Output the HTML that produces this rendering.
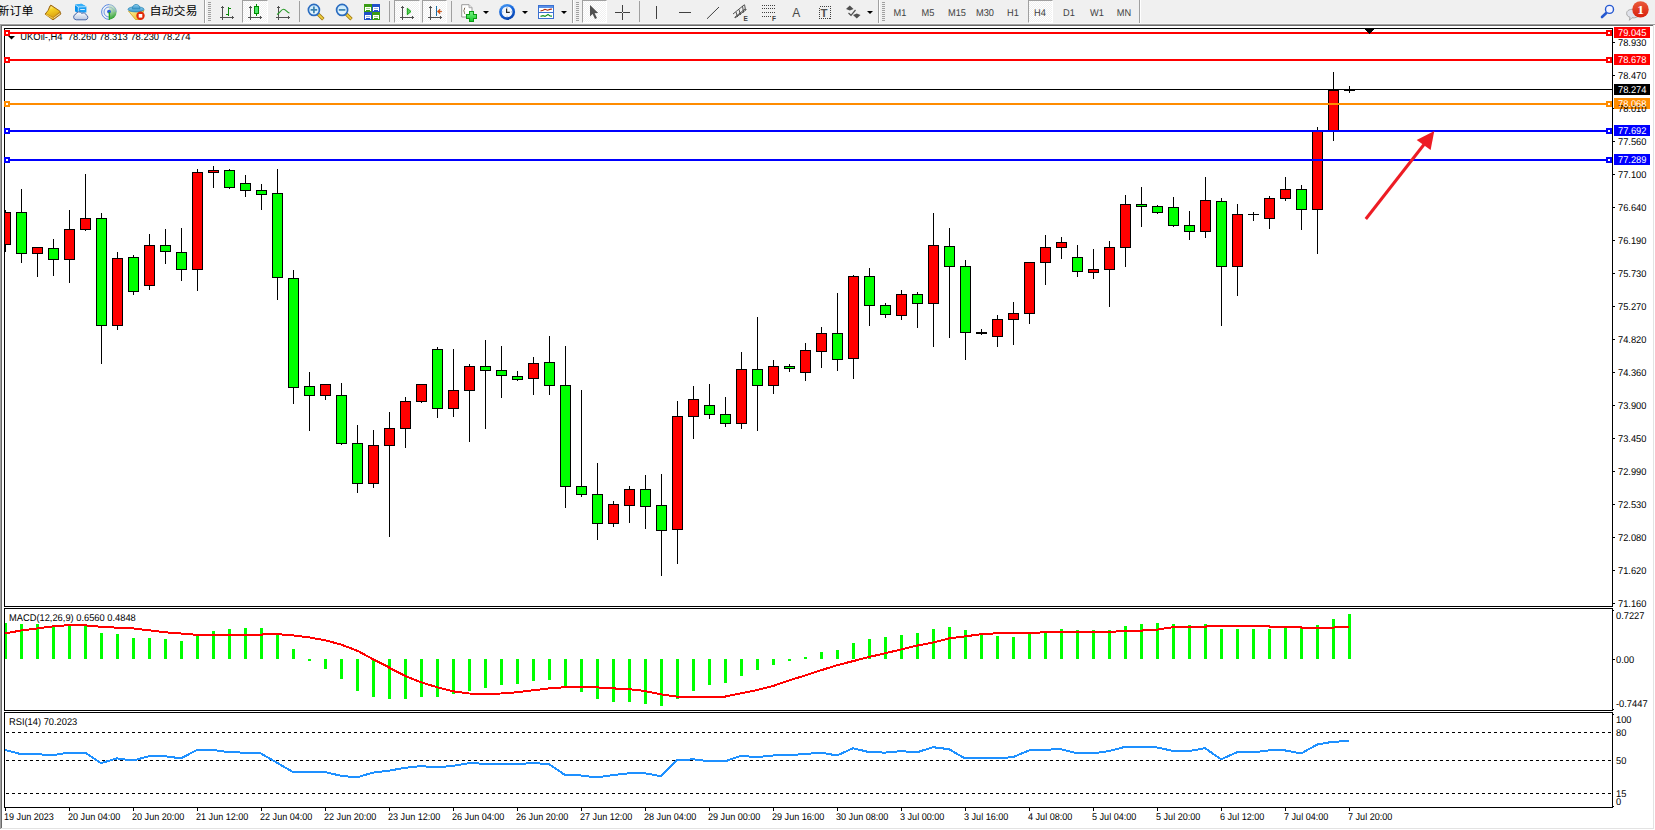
<!DOCTYPE html>
<html><head><meta charset="utf-8"><title>UKOil H4</title>
<style>
html,body{margin:0;padding:0;background:#fff;}
body{width:1655px;height:830px;position:relative;overflow:hidden;font-family:"Liberation Sans", sans-serif;}
#tb{position:absolute;left:0;top:0;width:1655px;height:24px;background:#f0f0f0;}
#tb .hl{position:absolute;left:0;top:23px;width:1655px;height:1px;background:#f6f6f6;}
.pb{position:absolute;top:0;height:21px;background:#fff repeating-conic-gradient(#f0f0f0 0% 25%, #ffffff 0% 50%) 0 0/2px 2px;border-left:1px solid #a0a0a0;border-top:1px solid #a0a0a0;border-right:1px solid #fff;border-bottom:1px solid #fff;box-sizing:content-box;}
.sep{position:absolute;top:1px;width:1px;height:21px;background:#a0a0a0;}
.bsep{position:absolute;top:0;width:1px;height:23px;background:#a0a0a0;border-right:1px solid #fff;}
.grip{position:absolute;top:2px;width:3px;height:20px;background:repeating-linear-gradient(to bottom,#a0a0a0 0,#a0a0a0 1px,transparent 1px,transparent 2px);}
.tf{position:absolute;top:8px;text-rendering:geometricPrecision;transform:scaleX(0.935);width:28px;text-align:center;font-size:9.9px;line-height:12px;color:#404040;}
.cn{position:absolute;top:3px;transform:scaleY(0.92);transform-origin:0 50%;font-family:"Liberation Sans","Noto Sans CJK SC",sans-serif;font-size:12px;line-height:16px;color:#000;white-space:nowrap;}
.dd{position:absolute;top:11px;width:0;height:0;border-left:3px solid transparent;border-right:3px solid transparent;border-top:3px solid #000;}
</style></head><body>
<div id="tb"><div class="hl"></div>
<div class="cn" style="left:-2.5px">新订单</div>
<div class="cn" style="left:149.5px">自动交易</div>
<div class="bsep" style="left:204px"></div><div class="grip" style="left:208px"></div>
<div class="pb" style="left:242px;width:24px"></div>
<div class="sep" style="left:299px"></div>
<div class="sep" style="left:389px"></div>
<div class="pb" style="left:394px;width:24px"></div>
<div class="pb" style="left:422px;width:23px"></div>
<div class="sep" style="left:451px"></div>
<div class="dd" style="left:483px"></div><div class="dd" style="left:522px"></div><div class="dd" style="left:561px"></div>
<div class="bsep" style="left:572px"></div><div class="grip" style="left:576px"></div>
<div class="pb" style="left:582px;width:23px"></div>
<div class="sep" style="left:639px"></div>
<div class="dd" style="left:867px"></div>
<div class="bsep" style="left:878px"></div><div class="grip" style="left:882px"></div>
<div class="pb" style="left:1028px;width:23px"></div>
<div class="tf" style="left:886px">M1</div><div class="tf" style="left:914px">M5</div><div class="tf" style="left:942.5px">M15</div><div class="tf" style="left:970.5px">M30</div><div class="tf" style="left:998.5px">H1</div><div class="tf" style="left:1026px">H4</div><div class="tf" style="left:1054.5px">D1</div><div class="tf" style="left:1083px">W1</div><div class="tf" style="left:1110px">MN</div>
<div class="bsep" style="left:1139px"></div>
<svg width="1655" height="24" viewBox="0 0 1655 24" style="position:absolute;left:0;top:0">
<defs>
<linearGradient id="gold" x1="0" y1="0" x2="1" y2="1"><stop offset="0" stop-color="#fff2a0"/><stop offset="0.45" stop-color="#f2c21c"/><stop offset="1" stop-color="#c98a12"/></linearGradient>
<linearGradient id="cloud" x1="0" y1="0" x2="0" y2="1"><stop offset="0" stop-color="#ffffff"/><stop offset="1" stop-color="#b8c6e0"/></linearGradient>
<linearGradient id="lens" x1="0" y1="0" x2="0" y2="1"><stop offset="0" stop-color="#c4e6fb"/><stop offset="1" stop-color="#eefaff"/></linearGradient>
<linearGradient id="redb" x1="0" y1="0" x2="0" y2="1"><stop offset="0" stop-color="#ea5a3a"/><stop offset="1" stop-color="#d8200c"/></linearGradient>
<linearGradient id="grn" x1="0" y1="0" x2="0" y2="1"><stop offset="0" stop-color="#7df58a"/><stop offset="1" stop-color="#14c828"/></linearGradient>
<linearGradient id="hat" x1="0" y1="0" x2="0" y2="1"><stop offset="0" stop-color="#8fd0ee"/><stop offset="1" stop-color="#3a96cc"/></linearGradient>
<linearGradient id="yel" x1="0" y1="0" x2="1" y2="1"><stop offset="0" stop-color="#fff09a"/><stop offset="1" stop-color="#e8b820"/></linearGradient>
<radialGradient id="sig" cx="0.5" cy="0.5" r="0.5"><stop offset="0" stop-color="#e8f4e0"/><stop offset="1" stop-color="#c8e0c8"/></radialGradient>
<g id="axes" shape-rendering="crispEdges" fill="#505050"><rect x="2" y="6" width="1" height="14"/><rect x="1" y="7" width="3" height="1"/><rect x="0" y="17" width="14" height="1"/><rect x="12" y="16" width="1" height="3"/></g>
</defs>
<!-- gold book -->
<linearGradient id="gold2" x1="0.2" y1="0" x2="0.6" y2="1"><stop offset="0" stop-color="#fff6a8"/><stop offset="0.35" stop-color="#f6d224"/><stop offset="1" stop-color="#dca214"/></linearGradient>
<path d="M50.9 5.1 L59.8 11 L60.9 14 L53 19.9 L45.1 14.1 L48 10.6 L50 5.8 Z" fill="#c68e18" stroke="#9a640c" stroke-width="0.9" stroke-linejoin="round"/>
<path d="M51 5.9 L59.6 11.6 L53.2 17 L46.2 13.4 L48.6 10.6 Z" fill="url(#gold2)"/>
<path d="M46 14.6 L53 18.4" stroke="#f0c848" stroke-width="1.1"/>
<path d="M53.6 18.2 L60.2 13.4" stroke="#f6ecc0" stroke-width="0.8"/>
<!-- server + cloud -->
<path d="M75 4.8 L81.3 3.8 L86.4 6.6 L86.4 12.4 L78 12.4 L75 11.2 Z" fill="#1a9ef4"/>
<path d="M75 4.8 L78.2 6.9 L78.2 12.4 L75 11.2 Z" fill="#0890ec"/>
<path d="M75 4.8 L81.3 3.8 L86.4 6.6 L78.2 6.9 Z" fill="#34b0fa"/>
<path d="M75.2 5 L78.3 7 L86.3 6.7 M78.3 7 V12.4" stroke="#e8f6ff" stroke-width="0.7" fill="none"/>
<rect x="80.2" y="9" width="4.6" height="0.9" fill="#e8f6ff"/>
<path d="M76.2 19.8 a2.8 2.8 0 0 1 -0.5 -5.5 a3.4 3.4 0 0 1 6.1 -0.9 a2.9 2.9 0 0 1 4.4 1.5 a2.6 2.6 0 0 1 -0.2 4.9 Z" fill="url(#cloud)" stroke="#4a68a8" stroke-width="1"/>
<!-- signal -->
<linearGradient id="sweep" x1="0" y1="0" x2="0.3" y2="1"><stop offset="0" stop-color="#b8d8b8" stop-opacity="0.25"/><stop offset="0.55" stop-color="#78c078" stop-opacity="0.7"/><stop offset="1" stop-color="#2aa02a"/></linearGradient>
<circle cx="109" cy="12" r="7.6" fill="#eef2f6"/>
<path d="M109 4.4 A7.6 7.6 0 0 1 109 19.6 Z" fill="url(#sweep)"/>
<path d="M109 4.6 A7.4 7.4 0 0 0 109 19.4" fill="none" stroke="#5a88e0" stroke-width="1"/>
<path d="M109 7 A5 5 0 0 0 109 17" fill="none" stroke="#6a94e4" stroke-width="1"/>
<path d="M109 4.6 A7.4 7.4 0 0 1 116.4 12" fill="none" stroke="#90b0d0" stroke-width="1"/>
<path d="M109 7 A5 5 0 0 1 114 12" fill="none" stroke="#90b8c8" stroke-width="0.9"/>
<circle cx="109" cy="11.6" r="1.9" fill="#2a5cd8"/>
<rect x="108.7" y="12" width="1.4" height="7.8" fill="#22a522"/>
<!-- autotrade -->
<path d="M128.5 11 L144 10.5 L139.5 19.5 L135.5 19.5 Z" fill="url(#yel)" stroke="#d0a018" stroke-width="0.8"/>
<ellipse cx="136" cy="9.3" rx="8" ry="2.6" fill="url(#hat)" stroke="#2a86b8" stroke-width="0.8"/>
<path d="M132.3 8.8 C132.3 3, 140 3, 140 8.8 Z" fill="url(#hat)" stroke="#2a86b8" stroke-width="0.8"/>
<circle cx="140.5" cy="15.8" r="4.2" fill="#e22808"/>
<rect x="138.7" y="14" width="3.6" height="3.6" fill="#fff"/>
<!-- bars -->
<use href="#axes" x="220" y="0"/>
<g shape-rendering="crispEdges" fill="#0a8a0a"><rect x="228" y="7" width="1" height="9"/><rect x="229" y="8" width="2" height="1"/><rect x="226" y="14" width="2" height="1"/></g>
<!-- candle -->
<use href="#axes" x="248" y="0"/>
<g shape-rendering="crispEdges"><rect x="256" y="4" width="1" height="12" fill="#008c00"/><rect x="254" y="6" width="5" height="8" fill="#008c00"/><rect x="255" y="7" width="3" height="6" fill="#4ce468"/></g>
<!-- line -->
<use href="#axes" x="276" y="0"/>
<path d="M277 14.5 C280 13, 281 9.2, 283.5 9.2 S287 12.5, 289.5 13" fill="none" stroke="#2a9a2a" stroke-width="1.1"/>
<!-- zoom in / out -->
<g id="zi"><path d="M318 14 L323.3 19.3" stroke="#a07810" stroke-width="3.4" stroke-linecap="butt"/><path d="M318.3 14.3 L322.9 18.9" stroke="#f0d040" stroke-width="1.8"/>
<circle cx="313.9" cy="9.9" r="5.5" fill="url(#lens)" stroke="#2a6cc0" stroke-width="1.7"/></g>
<path d="M310.6 9.9H317.2M313.9 6.6V13.2" stroke="#3a80b0" stroke-width="1.7"/>
<use href="#zi" x="28.2" y="0"/>
<path d="M338.8 9.9H345.4" stroke="#3a80b0" stroke-width="1.7"/>
<!-- grid -->
<g shape-rendering="crispEdges"><rect x="364" y="4" width="8" height="8" fill="#3a9c14"/><rect x="372" y="4" width="8" height="8" fill="#2050c8"/><rect x="364" y="12" width="8" height="8" fill="#2050c8"/><rect x="372" y="12" width="8" height="8" fill="#3a9c14"/>
<rect x="365" y="7" width="6" height="4" fill="#fff"/><rect x="373" y="7" width="6" height="4" fill="#fff"/><rect x="365" y="15" width="6" height="4" fill="#fff"/><rect x="373" y="15" width="6" height="4" fill="#fff"/>
<rect x="366" y="8" width="4" height="1" fill="#a8d890"/><rect x="374" y="8" width="4" height="1" fill="#a0b4e8"/><rect x="366" y="16" width="4" height="1" fill="#a0b4e8"/><rect x="374" y="16" width="4" height="1" fill="#a8d890"/>
<rect x="366" y="10" width="4" height="1" fill="#3a9c14"/><rect x="374" y="10" width="4" height="1" fill="#2050c8"/><rect x="366" y="18" width="4" height="1" fill="#2050c8"/><rect x="374" y="18" width="4" height="1" fill="#3a9c14"/></g>
<!-- autoscroll -->
<use href="#axes" x="400" y="0"/>
<path d="M407.3 8.2 L411 11.5 L407.3 14.8 Z" fill="#58d058" stroke="#10a010" stroke-width="1"/>
<!-- shift -->
<use href="#axes" x="428" y="0"/>
<rect x="436" y="6" width="1" height="10" fill="#1a70a8" shape-rendering="crispEdges"/>
<path d="M437.3 11.5 L440 9 L439.6 11 L442 11.5 L439.6 12 L440 14 Z" fill="#e05008" stroke="#c04000" stroke-width="0.5"/>
<!-- doc + -->
<path d="M461.7 4.7 H469 L472 7.7 V17 H461.7 Z" fill="#fff" stroke="#9a9a9a" stroke-width="1"/>
<path d="M469 4.7 V7.7 H472" fill="#e8e8e8" stroke="#9a9a9a" stroke-width="0.8"/>
<path d="M465.2 7.5 C464 7.5,464.8 10.8,463.6 10.8 C464.8 10.8,464 14.2,465.2 14.2" fill="none" stroke="#6a5a40" stroke-width="0.9"/>
<path d="M469.5 11 H473 V14.5 H476.5 V18 H473 V21.5 H469.5 V18 H466 V14.5 H469.5 Z" fill="url(#grn)" stroke="#0a9a14" stroke-width="1" stroke-linejoin="miter" shape-rendering="crispEdges"/>
<!-- clock -->
<linearGradient id="clk" x1="0" y1="0" x2="0.4" y2="1"><stop offset="0" stop-color="#58a8f8"/><stop offset="0.5" stop-color="#1666dc"/><stop offset="1" stop-color="#0a48b4"/></linearGradient>
<circle cx="507.1" cy="11.9" r="8" fill="url(#clk)"/>
<circle cx="507.1" cy="11.9" r="5.4" fill="#f2f6fc"/>
<g stroke="#8898b0" stroke-width="0.7"><path d="M507.1 7V8M507.1 15.8V16.8M502.2 11.9H503.2M511 11.9H512"/></g>
<path d="M506.6 8.4 V12.3 H509.8" fill="none" stroke="#282828" stroke-width="1.2"/>
<!-- template -->
<rect x="538.5" y="5.5" width="15" height="13" fill="#fff" stroke="#3a70d0" stroke-width="1"/>
<rect x="539" y="6" width="14" height="2" fill="#5a90e8"/>
<path d="M539 12.5H553" stroke="#3a70d0" stroke-width="1"/>
<path d="M540.5 11 L543 10.3 L545 9.3 L547.5 10.2 L550 9.4 L552 9" fill="none" stroke="#b02808" stroke-width="1.2"/>
<path d="M540.5 16.3 L543 15.6 L545 16.4 L548 14.4 L550 16 L552 16.2" fill="none" stroke="#109020" stroke-width="1.2"/>
<!-- cursor -->
<path d="M590 5 V16.4 L592.6 14 L595 19 L597 18 L594.6 13.2 L598.2 13 Z" fill="#505050"/>
<!-- crosshair -->
<g shape-rendering="crispEdges" fill="#404040"><rect x="622" y="5" width="1" height="15"/><rect x="615" y="12" width="15" height="1"/></g>
<rect x="622" y="12" width="1" height="1" fill="#f0f0f0"/>
<rect x="656" y="6" width="1" height="13" fill="#404040" shape-rendering="crispEdges"/>
<rect x="679" y="12" width="12" height="1" fill="#404040" shape-rendering="crispEdges"/>
<path d="M707 18.8 L719 7" stroke="#404040" stroke-width="1"/>
<!-- channel -->
<g stroke="#404040" stroke-width="0.9" fill="none"><path d="M733 14 L744 5"/><path d="M735 18 L746.5 9.5"/><path d="M734.5 17.5 L745 9 M736 12 L737.5 17 M739 9.5 L740.5 15 M742.5 6 L743.5 12.5 M744.5 4.5 L745.5 10"/></g>
<text x="743.6" y="20.6" font-family='"Liberation Sans",sans-serif' font-size="6.5" font-weight="bold" fill="#404040">E</text>
<!-- fibo -->
<g stroke="#404040" stroke-width="1" stroke-dasharray="1 1" shape-rendering="crispEdges"><path d="M762 5.5H775M762 8.5H775M762 12.5H775M762 16.5H771"/></g>
<text x="772" y="20.6" font-family='"Liberation Sans",sans-serif' font-size="6.5" font-weight="bold" fill="#404040">F</text>
<text x="792.3" y="17" font-family='"Liberation Sans",sans-serif' font-size="12" fill="#484848">A</text>
<!-- T label -->
<rect x="819.5" y="6.5" width="11" height="12" fill="none" stroke="#404040" stroke-width="1" stroke-dasharray="1 1" shape-rendering="crispEdges"/>
<text x="820.6" y="17" font-family='"Liberation Sans",sans-serif' font-size="11.5" font-weight="bold" fill="#505050">T</text>
<!-- arrows -->
<path d="M846 9 L849.8 5.5 L853.5 9 L849.8 10.5 Z" fill="#505050"/>
<path d="M853 15 L856.8 13.5 L860.5 15 L856.8 18.6 Z" fill="#505050"/>
<path d="M848.5 13 L851 15.3 L855.5 10" fill="none" stroke="#505050" stroke-width="1.2"/>
<!-- search -->
<path d="M1606 13.2 L1602 17" stroke="#2458d0" stroke-width="2.6" stroke-linecap="round"/>
<circle cx="1609.5" cy="9.4" r="4" fill="#f4f4ff" stroke="#2458d0" stroke-width="1.4"/>
<!-- chat -->
<path d="M1627 15 C1625.5 11,1629 9,1634 9.2 C1640 9.4,1641 13,1638 16.5 C1636 18,1633 18,1632 17.7 L1629.4 20.3 L1630 17.2 C1628.5 16.8,1627.5 16.2,1627 15Z" fill="#e0e2ea" stroke="#a8a8a8" stroke-width="1"/>
<circle cx="1640.5" cy="9.4" r="8.2" fill="url(#redb)"/>
<text x="1640.6" y="13.9" text-anchor="middle" font-family='"Liberation Serif","DejaVu Serif",serif' font-size="13.5" font-weight="bold" fill="#fff">1</text>
</svg>

</div>
<svg width="1655" height="830" viewBox="0 0 1655 830" style="position:absolute;left:0;top:0" shape-rendering="crispEdges"><rect x="0" y="24" width="1655" height="1" fill="#a0a0a0"/>
<rect x="0" y="24" width="1" height="805" fill="#a0a0a0"/>
<rect x="1" y="25" width="1653" height="1" fill="#696969"/>
<rect x="1" y="25" width="1" height="803" fill="#696969"/>
<rect x="1653" y="25" width="1" height="804" fill="#e3e3e3"/>
<rect x="1" y="828" width="1653" height="1" fill="#e3e3e3"/>
<rect x="4" y="28" width="1609" height="1" fill="#000"/>
<rect x="4" y="606" width="1609" height="1" fill="#000"/>
<rect x="4" y="28" width="1" height="579" fill="#000"/>
<rect x="1612" y="28" width="1" height="579" fill="#000"/>
<rect x="4" y="608" width="1609" height="1" fill="#000"/>
<rect x="4" y="710" width="1609" height="1" fill="#000"/>
<rect x="4" y="608" width="1" height="103" fill="#000"/>
<rect x="1612" y="608" width="1" height="103" fill="#000"/>
<rect x="4" y="712" width="1609" height="1" fill="#000"/>
<rect x="4" y="807" width="1609" height="1" fill="#000"/>
<rect x="4" y="712" width="1" height="96" fill="#000"/>
<rect x="1612" y="712" width="1" height="96" fill="#000"/>
<clipPath id="cm"><rect x="5" y="29" width="1607" height="577"/></clipPath>
<g clip-path="url(#cm)">
<rect x="5" y="210" width="1" height="42" fill="#000"/>
<rect x="0" y="212" width="11" height="33" fill="#000"/>
<rect x="1" y="213" width="9" height="31" fill="#ff0000"/>
<rect x="21" y="189" width="1" height="74" fill="#000"/>
<rect x="16" y="212" width="11" height="42" fill="#000"/>
<rect x="17" y="213" width="9" height="40" fill="#00ff00"/>
<rect x="37" y="247" width="1" height="30" fill="#000"/>
<rect x="32" y="247" width="11" height="7" fill="#000"/>
<rect x="33" y="248" width="9" height="5" fill="#ff0000"/>
<rect x="53" y="239" width="1" height="37" fill="#000"/>
<rect x="48" y="248" width="11" height="12" fill="#000"/>
<rect x="49" y="249" width="9" height="10" fill="#00ff00"/>
<rect x="69" y="210" width="1" height="73" fill="#000"/>
<rect x="64" y="229" width="11" height="31" fill="#000"/>
<rect x="65" y="230" width="9" height="29" fill="#ff0000"/>
<rect x="85" y="174" width="1" height="57" fill="#000"/>
<rect x="80" y="218" width="11" height="12" fill="#000"/>
<rect x="81" y="219" width="9" height="10" fill="#ff0000"/>
<rect x="101" y="213" width="1" height="151" fill="#000"/>
<rect x="96" y="218" width="11" height="108" fill="#000"/>
<rect x="97" y="219" width="9" height="106" fill="#00ff00"/>
<rect x="117" y="252" width="1" height="78" fill="#000"/>
<rect x="112" y="258" width="11" height="68" fill="#000"/>
<rect x="113" y="259" width="9" height="66" fill="#ff0000"/>
<rect x="133" y="255" width="1" height="40" fill="#000"/>
<rect x="128" y="257" width="11" height="35" fill="#000"/>
<rect x="129" y="258" width="9" height="33" fill="#00ff00"/>
<rect x="149" y="234" width="1" height="56" fill="#000"/>
<rect x="144" y="245" width="11" height="41" fill="#000"/>
<rect x="145" y="246" width="9" height="39" fill="#ff0000"/>
<rect x="165" y="229" width="1" height="35" fill="#000"/>
<rect x="160" y="245" width="11" height="7" fill="#000"/>
<rect x="161" y="246" width="9" height="5" fill="#00ff00"/>
<rect x="181" y="228" width="1" height="53" fill="#000"/>
<rect x="176" y="252" width="11" height="18" fill="#000"/>
<rect x="177" y="253" width="9" height="16" fill="#00ff00"/>
<rect x="197" y="169" width="1" height="122" fill="#000"/>
<rect x="192" y="172" width="11" height="98" fill="#000"/>
<rect x="193" y="173" width="9" height="96" fill="#ff0000"/>
<rect x="213" y="166" width="1" height="22" fill="#000"/>
<rect x="208" y="170" width="11" height="3" fill="#000"/>
<rect x="209" y="171" width="9" height="1" fill="#ff0000"/>
<rect x="229" y="169" width="1" height="20" fill="#000"/>
<rect x="224" y="170" width="11" height="18" fill="#000"/>
<rect x="225" y="171" width="9" height="16" fill="#00ff00"/>
<rect x="245" y="175" width="1" height="22" fill="#000"/>
<rect x="240" y="183" width="11" height="8" fill="#000"/>
<rect x="241" y="184" width="9" height="6" fill="#00ff00"/>
<rect x="261" y="184" width="1" height="26" fill="#000"/>
<rect x="256" y="190" width="11" height="5" fill="#000"/>
<rect x="257" y="191" width="9" height="3" fill="#00ff00"/>
<rect x="277" y="169" width="1" height="131" fill="#000"/>
<rect x="272" y="193" width="11" height="85" fill="#000"/>
<rect x="273" y="194" width="9" height="83" fill="#00ff00"/>
<rect x="293" y="270" width="1" height="134" fill="#000"/>
<rect x="288" y="278" width="11" height="110" fill="#000"/>
<rect x="289" y="279" width="9" height="108" fill="#00ff00"/>
<rect x="309" y="372" width="1" height="59" fill="#000"/>
<rect x="304" y="386" width="11" height="10" fill="#000"/>
<rect x="305" y="387" width="9" height="8" fill="#00ff00"/>
<rect x="325" y="384" width="1" height="16" fill="#000"/>
<rect x="320" y="384" width="11" height="12" fill="#000"/>
<rect x="321" y="385" width="9" height="10" fill="#ff0000"/>
<rect x="341" y="383" width="1" height="62" fill="#000"/>
<rect x="336" y="395" width="11" height="49" fill="#000"/>
<rect x="337" y="396" width="9" height="47" fill="#00ff00"/>
<rect x="357" y="425" width="1" height="68" fill="#000"/>
<rect x="352" y="443" width="11" height="41" fill="#000"/>
<rect x="353" y="444" width="9" height="39" fill="#00ff00"/>
<rect x="373" y="430" width="1" height="58" fill="#000"/>
<rect x="368" y="445" width="11" height="39" fill="#000"/>
<rect x="369" y="446" width="9" height="37" fill="#ff0000"/>
<rect x="389" y="412" width="1" height="125" fill="#000"/>
<rect x="384" y="428" width="11" height="18" fill="#000"/>
<rect x="385" y="429" width="9" height="16" fill="#ff0000"/>
<rect x="405" y="397" width="1" height="51" fill="#000"/>
<rect x="400" y="401" width="11" height="28" fill="#000"/>
<rect x="401" y="402" width="9" height="26" fill="#ff0000"/>
<rect x="421" y="384" width="1" height="19" fill="#000"/>
<rect x="416" y="384" width="11" height="18" fill="#000"/>
<rect x="417" y="385" width="9" height="16" fill="#ff0000"/>
<rect x="437" y="347" width="1" height="71" fill="#000"/>
<rect x="432" y="349" width="11" height="60" fill="#000"/>
<rect x="433" y="350" width="9" height="58" fill="#00ff00"/>
<rect x="453" y="349" width="1" height="68" fill="#000"/>
<rect x="448" y="390" width="11" height="19" fill="#000"/>
<rect x="449" y="391" width="9" height="17" fill="#ff0000"/>
<rect x="469" y="364" width="1" height="78" fill="#000"/>
<rect x="464" y="366" width="11" height="25" fill="#000"/>
<rect x="465" y="367" width="9" height="23" fill="#ff0000"/>
<rect x="485" y="340" width="1" height="89" fill="#000"/>
<rect x="480" y="366" width="11" height="5" fill="#000"/>
<rect x="481" y="367" width="9" height="3" fill="#00ff00"/>
<rect x="501" y="346" width="1" height="52" fill="#000"/>
<rect x="496" y="370" width="11" height="6" fill="#000"/>
<rect x="497" y="371" width="9" height="4" fill="#00ff00"/>
<rect x="517" y="371" width="1" height="10" fill="#000"/>
<rect x="512" y="376" width="11" height="4" fill="#000"/>
<rect x="513" y="377" width="9" height="2" fill="#00ff00"/>
<rect x="533" y="357" width="1" height="38" fill="#000"/>
<rect x="528" y="363" width="11" height="16" fill="#000"/>
<rect x="529" y="364" width="9" height="14" fill="#ff0000"/>
<rect x="549" y="336" width="1" height="59" fill="#000"/>
<rect x="544" y="362" width="11" height="24" fill="#000"/>
<rect x="545" y="363" width="9" height="22" fill="#00ff00"/>
<rect x="565" y="346" width="1" height="162" fill="#000"/>
<rect x="560" y="385" width="11" height="102" fill="#000"/>
<rect x="561" y="386" width="9" height="100" fill="#00ff00"/>
<rect x="581" y="390" width="1" height="107" fill="#000"/>
<rect x="576" y="486" width="11" height="9" fill="#000"/>
<rect x="577" y="487" width="9" height="7" fill="#00ff00"/>
<rect x="597" y="463" width="1" height="77" fill="#000"/>
<rect x="592" y="494" width="11" height="30" fill="#000"/>
<rect x="593" y="495" width="9" height="28" fill="#00ff00"/>
<rect x="613" y="501" width="1" height="26" fill="#000"/>
<rect x="608" y="504" width="11" height="20" fill="#000"/>
<rect x="609" y="505" width="9" height="18" fill="#ff0000"/>
<rect x="629" y="486" width="1" height="37" fill="#000"/>
<rect x="624" y="489" width="11" height="17" fill="#000"/>
<rect x="625" y="490" width="9" height="15" fill="#ff0000"/>
<rect x="645" y="475" width="1" height="54" fill="#000"/>
<rect x="640" y="489" width="11" height="18" fill="#000"/>
<rect x="641" y="490" width="9" height="16" fill="#00ff00"/>
<rect x="661" y="474" width="1" height="102" fill="#000"/>
<rect x="656" y="505" width="11" height="26" fill="#000"/>
<rect x="657" y="506" width="9" height="24" fill="#00ff00"/>
<rect x="677" y="401" width="1" height="163" fill="#000"/>
<rect x="672" y="416" width="11" height="114" fill="#000"/>
<rect x="673" y="417" width="9" height="112" fill="#ff0000"/>
<rect x="693" y="386" width="1" height="53" fill="#000"/>
<rect x="688" y="399" width="11" height="18" fill="#000"/>
<rect x="689" y="400" width="9" height="16" fill="#ff0000"/>
<rect x="709" y="384" width="1" height="35" fill="#000"/>
<rect x="704" y="405" width="11" height="10" fill="#000"/>
<rect x="705" y="406" width="9" height="8" fill="#00ff00"/>
<rect x="725" y="397" width="1" height="30" fill="#000"/>
<rect x="720" y="414" width="11" height="10" fill="#000"/>
<rect x="721" y="415" width="9" height="8" fill="#00ff00"/>
<rect x="741" y="352" width="1" height="77" fill="#000"/>
<rect x="736" y="369" width="11" height="55" fill="#000"/>
<rect x="737" y="370" width="9" height="53" fill="#ff0000"/>
<rect x="757" y="317" width="1" height="114" fill="#000"/>
<rect x="752" y="369" width="11" height="17" fill="#000"/>
<rect x="753" y="370" width="9" height="15" fill="#00ff00"/>
<rect x="773" y="360" width="1" height="34" fill="#000"/>
<rect x="768" y="366" width="11" height="20" fill="#000"/>
<rect x="769" y="367" width="9" height="18" fill="#ff0000"/>
<rect x="789" y="364" width="1" height="8" fill="#000"/>
<rect x="784" y="366" width="11" height="3" fill="#000"/>
<rect x="785" y="367" width="9" height="1" fill="#00ff00"/>
<rect x="805" y="343" width="1" height="38" fill="#000"/>
<rect x="800" y="350" width="11" height="23" fill="#000"/>
<rect x="801" y="351" width="9" height="21" fill="#ff0000"/>
<rect x="821" y="327" width="1" height="41" fill="#000"/>
<rect x="816" y="333" width="11" height="19" fill="#000"/>
<rect x="817" y="334" width="9" height="17" fill="#ff0000"/>
<rect x="837" y="293" width="1" height="78" fill="#000"/>
<rect x="832" y="333" width="11" height="27" fill="#000"/>
<rect x="833" y="334" width="9" height="25" fill="#00ff00"/>
<rect x="853" y="275" width="1" height="104" fill="#000"/>
<rect x="848" y="276" width="11" height="83" fill="#000"/>
<rect x="849" y="277" width="9" height="81" fill="#ff0000"/>
<rect x="869" y="268" width="1" height="58" fill="#000"/>
<rect x="864" y="276" width="11" height="30" fill="#000"/>
<rect x="865" y="277" width="9" height="28" fill="#00ff00"/>
<rect x="885" y="303" width="1" height="15" fill="#000"/>
<rect x="880" y="305" width="11" height="10" fill="#000"/>
<rect x="881" y="306" width="9" height="8" fill="#00ff00"/>
<rect x="901" y="290" width="1" height="30" fill="#000"/>
<rect x="896" y="294" width="11" height="22" fill="#000"/>
<rect x="897" y="295" width="9" height="20" fill="#ff0000"/>
<rect x="917" y="292" width="1" height="36" fill="#000"/>
<rect x="912" y="294" width="11" height="10" fill="#000"/>
<rect x="913" y="295" width="9" height="8" fill="#00ff00"/>
<rect x="933" y="213" width="1" height="134" fill="#000"/>
<rect x="928" y="245" width="11" height="59" fill="#000"/>
<rect x="929" y="246" width="9" height="57" fill="#ff0000"/>
<rect x="949" y="228" width="1" height="110" fill="#000"/>
<rect x="944" y="246" width="11" height="21" fill="#000"/>
<rect x="945" y="247" width="9" height="19" fill="#00ff00"/>
<rect x="965" y="260" width="1" height="100" fill="#000"/>
<rect x="960" y="266" width="11" height="67" fill="#000"/>
<rect x="961" y="267" width="9" height="65" fill="#00ff00"/>
<rect x="981" y="329" width="1" height="6" fill="#000"/>
<rect x="976" y="332" width="11" height="2" fill="#000"/>
<rect x="997" y="315" width="1" height="32" fill="#000"/>
<rect x="992" y="319" width="11" height="18" fill="#000"/>
<rect x="993" y="320" width="9" height="16" fill="#ff0000"/>
<rect x="1013" y="302" width="1" height="43" fill="#000"/>
<rect x="1008" y="313" width="11" height="7" fill="#000"/>
<rect x="1009" y="314" width="9" height="5" fill="#ff0000"/>
<rect x="1029" y="262" width="1" height="62" fill="#000"/>
<rect x="1024" y="262" width="11" height="52" fill="#000"/>
<rect x="1025" y="263" width="9" height="50" fill="#ff0000"/>
<rect x="1045" y="235" width="1" height="50" fill="#000"/>
<rect x="1040" y="247" width="11" height="16" fill="#000"/>
<rect x="1041" y="248" width="9" height="14" fill="#ff0000"/>
<rect x="1061" y="237" width="1" height="22" fill="#000"/>
<rect x="1056" y="242" width="11" height="6" fill="#000"/>
<rect x="1057" y="243" width="9" height="4" fill="#ff0000"/>
<rect x="1077" y="245" width="1" height="32" fill="#000"/>
<rect x="1072" y="257" width="11" height="15" fill="#000"/>
<rect x="1073" y="258" width="9" height="13" fill="#00ff00"/>
<rect x="1093" y="249" width="1" height="30" fill="#000"/>
<rect x="1088" y="269" width="11" height="4" fill="#000"/>
<rect x="1089" y="270" width="9" height="2" fill="#ff0000"/>
<rect x="1109" y="241" width="1" height="66" fill="#000"/>
<rect x="1104" y="247" width="11" height="23" fill="#000"/>
<rect x="1105" y="248" width="9" height="21" fill="#ff0000"/>
<rect x="1125" y="195" width="1" height="72" fill="#000"/>
<rect x="1120" y="204" width="11" height="44" fill="#000"/>
<rect x="1121" y="205" width="9" height="42" fill="#ff0000"/>
<rect x="1141" y="187" width="1" height="40" fill="#000"/>
<rect x="1136" y="204" width="11" height="3" fill="#000"/>
<rect x="1137" y="205" width="9" height="1" fill="#00ff00"/>
<rect x="1157" y="205" width="1" height="9" fill="#000"/>
<rect x="1152" y="206" width="11" height="7" fill="#000"/>
<rect x="1153" y="207" width="9" height="5" fill="#00ff00"/>
<rect x="1173" y="197" width="1" height="30" fill="#000"/>
<rect x="1168" y="207" width="11" height="19" fill="#000"/>
<rect x="1169" y="208" width="9" height="17" fill="#00ff00"/>
<rect x="1189" y="211" width="1" height="29" fill="#000"/>
<rect x="1184" y="225" width="11" height="7" fill="#000"/>
<rect x="1185" y="226" width="9" height="5" fill="#00ff00"/>
<rect x="1205" y="177" width="1" height="61" fill="#000"/>
<rect x="1200" y="200" width="11" height="32" fill="#000"/>
<rect x="1201" y="201" width="9" height="30" fill="#ff0000"/>
<rect x="1221" y="198" width="1" height="128" fill="#000"/>
<rect x="1216" y="201" width="11" height="66" fill="#000"/>
<rect x="1217" y="202" width="9" height="64" fill="#00ff00"/>
<rect x="1237" y="204" width="1" height="92" fill="#000"/>
<rect x="1232" y="214" width="11" height="53" fill="#000"/>
<rect x="1233" y="215" width="9" height="51" fill="#ff0000"/>
<rect x="1253" y="212" width="1" height="9" fill="#000"/>
<rect x="1248" y="214" width="11" height="1" fill="#000"/>
<rect x="1269" y="196" width="1" height="33" fill="#000"/>
<rect x="1264" y="198" width="11" height="21" fill="#000"/>
<rect x="1265" y="199" width="9" height="19" fill="#ff0000"/>
<rect x="1285" y="177" width="1" height="24" fill="#000"/>
<rect x="1280" y="189" width="11" height="10" fill="#000"/>
<rect x="1281" y="190" width="9" height="8" fill="#ff0000"/>
<rect x="1301" y="185" width="1" height="45" fill="#000"/>
<rect x="1296" y="189" width="11" height="21" fill="#000"/>
<rect x="1297" y="190" width="9" height="19" fill="#00ff00"/>
<rect x="1317" y="127" width="1" height="127" fill="#000"/>
<rect x="1312" y="130" width="11" height="80" fill="#000"/>
<rect x="1313" y="131" width="9" height="78" fill="#ff0000"/>
<rect x="1333" y="72" width="1" height="69" fill="#000"/>
<rect x="1328" y="90" width="11" height="41" fill="#000"/>
<rect x="1329" y="91" width="9" height="39" fill="#ff0000"/>
<rect x="1349" y="86" width="1" height="7" fill="#000"/>
<rect x="1344" y="90" width="11" height="1" fill="#000"/>
</g>
<text transform="translate(20.3,40.3) scale(0.958,1)" font-family='"Liberation Sans", sans-serif' font-size="9.8" text-rendering="geometricPrecision" shape-rendering="auto" fill="#000">UKOil-,H4&#160; 78.260 78.313 78.230 78.274</text>
<rect x="5" y="89" width="1607" height="1" fill="#000"/>
<rect x="5" y="32" width="1607" height="2" fill="#ff0000"/>
<rect x="4" y="30" width="6" height="6" fill="#ff0000"/>
<rect x="6" y="32" width="2" height="2" fill="#fff"/>
<rect x="1606" y="30" width="6" height="6" fill="#ff0000"/>
<rect x="1608" y="32" width="2" height="2" fill="#fff"/>
<rect x="5" y="59" width="1607" height="2" fill="#ff0000"/>
<rect x="4" y="57" width="6" height="6" fill="#ff0000"/>
<rect x="6" y="59" width="2" height="2" fill="#fff"/>
<rect x="1606" y="57" width="6" height="6" fill="#ff0000"/>
<rect x="1608" y="59" width="2" height="2" fill="#fff"/>
<rect x="5" y="103" width="1607" height="2" fill="#ff8c00"/>
<rect x="4" y="101" width="6" height="6" fill="#ff8c00"/>
<rect x="6" y="103" width="2" height="2" fill="#fff"/>
<rect x="1606" y="101" width="6" height="6" fill="#ff8c00"/>
<rect x="1608" y="103" width="2" height="2" fill="#fff"/>
<rect x="5" y="130" width="1607" height="2" fill="#0000ff"/>
<rect x="4" y="128" width="6" height="6" fill="#0000ff"/>
<rect x="6" y="130" width="2" height="2" fill="#fff"/>
<rect x="1606" y="128" width="6" height="6" fill="#0000ff"/>
<rect x="1608" y="130" width="2" height="2" fill="#fff"/>
<rect x="5" y="159" width="1607" height="2" fill="#0000ff"/>
<rect x="4" y="157" width="6" height="6" fill="#0000ff"/>
<rect x="6" y="159" width="2" height="2" fill="#fff"/>
<rect x="1606" y="157" width="6" height="6" fill="#0000ff"/>
<rect x="1608" y="159" width="2" height="2" fill="#fff"/>
<rect x="1365" y="29" width="9" height="1" fill="#000"/>
<rect x="1366" y="30" width="7" height="1" fill="#000"/>
<rect x="1367" y="31" width="5" height="1" fill="#000"/>
<rect x="1368" y="32" width="3" height="1" fill="#000"/>
<rect x="1369" y="33" width="1" height="1" fill="#000"/>
<polygon points="8,36 15,36 11.5,39.6" fill="#000" shape-rendering="geometricPrecision"/>
<rect x="1613" y="42" width="2" height="1" fill="#000"/>
<rect x="1613" y="75" width="2" height="1" fill="#000"/>
<rect x="1613" y="108" width="2" height="1" fill="#000"/>
<rect x="1613" y="141" width="2" height="1" fill="#000"/>
<rect x="1613" y="174" width="2" height="1" fill="#000"/>
<rect x="1613" y="207" width="2" height="1" fill="#000"/>
<rect x="1613" y="240" width="2" height="1" fill="#000"/>
<rect x="1613" y="273" width="2" height="1" fill="#000"/>
<rect x="1613" y="306" width="2" height="1" fill="#000"/>
<rect x="1613" y="339" width="2" height="1" fill="#000"/>
<rect x="1613" y="372" width="2" height="1" fill="#000"/>
<rect x="1613" y="405" width="2" height="1" fill="#000"/>
<rect x="1613" y="438" width="2" height="1" fill="#000"/>
<rect x="1613" y="471" width="2" height="1" fill="#000"/>
<rect x="1613" y="504" width="2" height="1" fill="#000"/>
<rect x="1613" y="537" width="2" height="1" fill="#000"/>
<rect x="1613" y="570" width="2" height="1" fill="#000"/>
<rect x="1613" y="603" width="2" height="1" fill="#000"/>
<rect x="1614" y="27" width="36" height="11" fill="#ff0000"/>
<rect x="1614" y="54" width="36" height="11" fill="#ff0000"/>
<rect x="1614" y="84" width="36" height="11" fill="#000"/>
<rect x="1614" y="98" width="36" height="11" fill="#ff8c00"/>
<rect x="1614" y="125" width="36" height="11" fill="#0000ff"/>
<rect x="1614" y="154" width="36" height="11" fill="#0000ff"/>
<clipPath id="cmacd"><rect x="5" y="609" width="1607" height="101"/></clipPath>
<g clip-path="url(#cmacd)">
<rect x="4" y="623" width="3" height="36" fill="#00ff00"/>
<rect x="20" y="624" width="3" height="35" fill="#00ff00"/>
<rect x="36" y="624" width="3" height="35" fill="#00ff00"/>
<rect x="52" y="627" width="3" height="32" fill="#00ff00"/>
<rect x="68" y="626" width="3" height="33" fill="#00ff00"/>
<rect x="84" y="626" width="3" height="33" fill="#00ff00"/>
<rect x="100" y="633" width="3" height="26" fill="#00ff00"/>
<rect x="116" y="634" width="3" height="25" fill="#00ff00"/>
<rect x="132" y="638" width="3" height="21" fill="#00ff00"/>
<rect x="148" y="638" width="3" height="21" fill="#00ff00"/>
<rect x="164" y="639" width="3" height="20" fill="#00ff00"/>
<rect x="180" y="641" width="3" height="18" fill="#00ff00"/>
<rect x="196" y="635" width="3" height="24" fill="#00ff00"/>
<rect x="212" y="631" width="3" height="28" fill="#00ff00"/>
<rect x="228" y="629" width="3" height="30" fill="#00ff00"/>
<rect x="244" y="628" width="3" height="31" fill="#00ff00"/>
<rect x="260" y="628" width="3" height="31" fill="#00ff00"/>
<rect x="276" y="635" width="3" height="24" fill="#00ff00"/>
<rect x="292" y="649" width="3" height="10" fill="#00ff00"/>
<rect x="308" y="659" width="3" height="2" fill="#00ff00"/>
<rect x="324" y="659" width="3" height="10" fill="#00ff00"/>
<rect x="340" y="659" width="3" height="20" fill="#00ff00"/>
<rect x="356" y="659" width="3" height="32" fill="#00ff00"/>
<rect x="372" y="659" width="3" height="38" fill="#00ff00"/>
<rect x="388" y="659" width="3" height="40" fill="#00ff00"/>
<rect x="404" y="659" width="3" height="40" fill="#00ff00"/>
<rect x="420" y="659" width="3" height="38" fill="#00ff00"/>
<rect x="436" y="659" width="3" height="38" fill="#00ff00"/>
<rect x="452" y="659" width="3" height="35" fill="#00ff00"/>
<rect x="468" y="659" width="3" height="32" fill="#00ff00"/>
<rect x="484" y="659" width="3" height="29" fill="#00ff00"/>
<rect x="500" y="659" width="3" height="26" fill="#00ff00"/>
<rect x="516" y="659" width="3" height="25" fill="#00ff00"/>
<rect x="532" y="659" width="3" height="22" fill="#00ff00"/>
<rect x="548" y="659" width="3" height="21" fill="#00ff00"/>
<rect x="564" y="659" width="3" height="28" fill="#00ff00"/>
<rect x="580" y="659" width="3" height="33" fill="#00ff00"/>
<rect x="596" y="659" width="3" height="40" fill="#00ff00"/>
<rect x="612" y="659" width="3" height="43" fill="#00ff00"/>
<rect x="628" y="659" width="3" height="43" fill="#00ff00"/>
<rect x="644" y="659" width="3" height="45" fill="#00ff00"/>
<rect x="660" y="659" width="3" height="47" fill="#00ff00"/>
<rect x="676" y="659" width="3" height="40" fill="#00ff00"/>
<rect x="692" y="659" width="3" height="32" fill="#00ff00"/>
<rect x="708" y="659" width="3" height="26" fill="#00ff00"/>
<rect x="724" y="659" width="3" height="24" fill="#00ff00"/>
<rect x="740" y="659" width="3" height="17" fill="#00ff00"/>
<rect x="756" y="659" width="3" height="11" fill="#00ff00"/>
<rect x="772" y="659" width="3" height="6" fill="#00ff00"/>
<rect x="788" y="659" width="3" height="2" fill="#00ff00"/>
<rect x="804" y="657" width="3" height="2" fill="#00ff00"/>
<rect x="820" y="652" width="3" height="7" fill="#00ff00"/>
<rect x="836" y="650" width="3" height="9" fill="#00ff00"/>
<rect x="852" y="643" width="3" height="16" fill="#00ff00"/>
<rect x="868" y="639" width="3" height="20" fill="#00ff00"/>
<rect x="884" y="637" width="3" height="22" fill="#00ff00"/>
<rect x="900" y="635" width="3" height="24" fill="#00ff00"/>
<rect x="916" y="633" width="3" height="26" fill="#00ff00"/>
<rect x="932" y="629" width="3" height="30" fill="#00ff00"/>
<rect x="948" y="627" width="3" height="32" fill="#00ff00"/>
<rect x="964" y="630" width="3" height="29" fill="#00ff00"/>
<rect x="980" y="634" width="3" height="25" fill="#00ff00"/>
<rect x="996" y="636" width="3" height="23" fill="#00ff00"/>
<rect x="1012" y="637" width="3" height="22" fill="#00ff00"/>
<rect x="1028" y="633" width="3" height="26" fill="#00ff00"/>
<rect x="1044" y="631" width="3" height="28" fill="#00ff00"/>
<rect x="1060" y="629" width="3" height="30" fill="#00ff00"/>
<rect x="1076" y="630" width="3" height="29" fill="#00ff00"/>
<rect x="1092" y="630" width="3" height="29" fill="#00ff00"/>
<rect x="1108" y="630" width="3" height="29" fill="#00ff00"/>
<rect x="1124" y="626" width="3" height="33" fill="#00ff00"/>
<rect x="1140" y="624" width="3" height="35" fill="#00ff00"/>
<rect x="1156" y="623" width="3" height="36" fill="#00ff00"/>
<rect x="1172" y="624" width="3" height="35" fill="#00ff00"/>
<rect x="1188" y="625" width="3" height="34" fill="#00ff00"/>
<rect x="1204" y="624" width="3" height="35" fill="#00ff00"/>
<rect x="1220" y="629" width="3" height="30" fill="#00ff00"/>
<rect x="1236" y="629" width="3" height="30" fill="#00ff00"/>
<rect x="1252" y="629" width="3" height="30" fill="#00ff00"/>
<rect x="1268" y="629" width="3" height="30" fill="#00ff00"/>
<rect x="1284" y="627" width="3" height="32" fill="#00ff00"/>
<rect x="1300" y="628" width="3" height="31" fill="#00ff00"/>
<rect x="1316" y="625" width="3" height="34" fill="#00ff00"/>
<rect x="1332" y="619" width="3" height="40" fill="#00ff00"/>
<rect x="1348" y="614" width="3" height="45" fill="#00ff00"/>
<polyline points="5.3,633.3 21.8,630.4 37.5,628.4 53.2,626.3 70.1,625.1 84.6,625.3 101.5,626.8 117.2,627.7 132.9,628.4 149.8,630.4 165.6,632.3 181.3,633.5 198.2,635.0 261.0,635.0 263.4,634.2 277.9,634.2 293.7,635.5 309.4,637.4 325.1,640.3 340.8,644.4 357.7,650.9 373.4,659.4 389.1,667.4 388.9,667.8 404.9,675.8 421.1,682.3 437.0,687.2 453.0,691.3 468.9,693.5 484.9,693.7 501.1,693.5 517.0,692.3 533.0,690.3 548.9,688.4 564.9,687.2 581.1,686.9 597.0,687.4 613.0,688.4 628.9,689.1 644.9,691.0 661.1,694.4 677.0,696.6 693.0,697.1 708.9,697.1 725.1,696.6 741.1,693.2 757.0,690.1 773.0,686.0 789.0,680.4 805.0,675.6 820.9,670.3 837.1,665.2 853.1,661.1 869.0,657.0 885.0,653.3 900.9,649.5 917.1,645.6 933.1,642.5 949.0,638.4 965.0,636.4 980.9,634.2 997.1,633.3 1013.1,633.0 1029.0,633.0 1045.0,632.3 1060.9,631.8 1077.1,631.8 1093.1,631.8 1109.0,631.8 1125.0,631.1 1140.9,630.6 1156.9,629.7 1165.4,628.2 1173.1,627.2 1205.3,627.0 1207.7,626.0 1269.1,626.0 1270.5,627.0 1301.2,627.0 1301.9,628.0 1333.1,628.0 1334.6,627.0 1349.1,627.0" fill="none" stroke="#ff0000" stroke-width="2"/>
</g>
<rect x="1613" y="610" width="1" height="1" fill="#000"/>
<rect x="1613" y="659" width="2" height="1" fill="#000"/>
<rect x="1613" y="709" width="1" height="1" fill="#000"/>
<path d="M6 732.5H1612" stroke="#000" stroke-width="1" stroke-dasharray="3 3" fill="none"/>
<path d="M6 760.5H1612" stroke="#000" stroke-width="1" stroke-dasharray="3 3" fill="none"/>
<path d="M6 793.5H1612" stroke="#000" stroke-width="1" stroke-dasharray="3 3" fill="none"/>
<polyline points="5,749.9 21,754.2 37,754.2 53,755.2 69,752.6 85,752.6 101,763.2 117,758.4 133,760.5 149,756.2 165,756.2 181,758.4 197,749.9 213,749.9 229,752.3 245,752.6 261,753.5 277,762.7 293,772.1 309,772.1 325,772.1 341,775.8 357,777.4 373,772.6 389,770.7 405,767.8 421,766.1 437,767.5 453,765.8 469,763.2 485,763.7 501,764.2 517,764.2 533,762.9 549,764.2 565,775.0 581,775.5 597,777.4 613,775.0 629,773.3 645,773.3 661,776.2 677,760.3 693,759.3 709,761.3 725,761.3 741,755.9 757,757.1 773,755.5 789,755.2 805,754.0 821,752.6 837,755.5 853,748.2 869,752.1 885,752.6 901,751.1 917,752.3 933,747.2 949,749.2 965,758.4 981,758.4 997,758.4 1013,757.1 1029,750.4 1045,749.7 1061,749.2 1077,753.3 1093,753.3 1109,751.1 1125,746.8 1141,746.8 1157,747.5 1173,750.9 1189,751.1 1205,748.2 1221,759.3 1237,752.3 1253,752.3 1269,750.4 1285,750.4 1301,753.5 1317,744.6 1333,741.7 1349,741.2" fill="none" stroke="#1e90ff" stroke-width="2"/>
<rect x="1613" y="714" width="1" height="1" fill="#000"/>
<rect x="1613" y="806" width="1" height="1" fill="#000"/>
<rect x="5" y="808" width="1" height="3" fill="#000"/>
<rect x="69" y="808" width="1" height="3" fill="#000"/>
<rect x="133" y="808" width="1" height="3" fill="#000"/>
<rect x="197" y="808" width="1" height="3" fill="#000"/>
<rect x="261" y="808" width="1" height="3" fill="#000"/>
<rect x="325" y="808" width="1" height="3" fill="#000"/>
<rect x="389" y="808" width="1" height="3" fill="#000"/>
<rect x="453" y="808" width="1" height="3" fill="#000"/>
<rect x="517" y="808" width="1" height="3" fill="#000"/>
<rect x="581" y="808" width="1" height="3" fill="#000"/>
<rect x="645" y="808" width="1" height="3" fill="#000"/>
<rect x="709" y="808" width="1" height="3" fill="#000"/>
<rect x="773" y="808" width="1" height="3" fill="#000"/>
<rect x="837" y="808" width="1" height="3" fill="#000"/>
<rect x="901" y="808" width="1" height="3" fill="#000"/>
<rect x="965" y="808" width="1" height="3" fill="#000"/>
<rect x="1029" y="808" width="1" height="3" fill="#000"/>
<rect x="1093" y="808" width="1" height="3" fill="#000"/>
<rect x="1157" y="808" width="1" height="3" fill="#000"/>
<rect x="1221" y="808" width="1" height="3" fill="#000"/>
<rect x="1285" y="808" width="1" height="3" fill="#000"/>
<rect x="1349" y="808" width="1" height="3" fill="#000"/>
<g shape-rendering="geometricPrecision"><line x1="1365.8" y1="219" x2="1424" y2="144.5" stroke="#ed1c24" stroke-width="3"/><polygon points="1434.3,131 1416.7,139.9 1430.6,150" fill="#ed1c24"/></g><g font-family='"Liberation Sans", sans-serif' font-size="9.8" shape-rendering="auto" text-rendering="geometricPrecision"><text transform="translate(1618,46.3) scale(0.95,1)" fill="#000" text-anchor="start">78.930</text>
<text transform="translate(1618,79.3) scale(0.95,1)" fill="#000" text-anchor="start">78.470</text>
<text transform="translate(1618,112.3) scale(0.95,1)" fill="#000" text-anchor="start">78.010</text>
<text transform="translate(1618,145.3) scale(0.95,1)" fill="#000" text-anchor="start">77.560</text>
<text transform="translate(1618,178.3) scale(0.95,1)" fill="#000" text-anchor="start">77.100</text>
<text transform="translate(1618,211.3) scale(0.95,1)" fill="#000" text-anchor="start">76.640</text>
<text transform="translate(1618,244.3) scale(0.95,1)" fill="#000" text-anchor="start">76.190</text>
<text transform="translate(1618,277.3) scale(0.95,1)" fill="#000" text-anchor="start">75.730</text>
<text transform="translate(1618,310.3) scale(0.95,1)" fill="#000" text-anchor="start">75.270</text>
<text transform="translate(1618,343.3) scale(0.95,1)" fill="#000" text-anchor="start">74.820</text>
<text transform="translate(1618,376.3) scale(0.95,1)" fill="#000" text-anchor="start">74.360</text>
<text transform="translate(1618,409.3) scale(0.95,1)" fill="#000" text-anchor="start">73.900</text>
<text transform="translate(1618,442.3) scale(0.95,1)" fill="#000" text-anchor="start">73.450</text>
<text transform="translate(1618,475.3) scale(0.95,1)" fill="#000" text-anchor="start">72.990</text>
<text transform="translate(1618,508.3) scale(0.95,1)" fill="#000" text-anchor="start">72.530</text>
<text transform="translate(1618,541.3) scale(0.95,1)" fill="#000" text-anchor="start">72.080</text>
<text transform="translate(1618,574.3) scale(0.95,1)" fill="#000" text-anchor="start">71.620</text>
<text transform="translate(1618,607.3) scale(0.95,1)" fill="#000" text-anchor="start">71.160</text>
<text transform="translate(1618,36.3) scale(0.95,1)" fill="#fff" text-anchor="start">79.045</text>
<text transform="translate(1618,63.3) scale(0.95,1)" fill="#fff" text-anchor="start">78.678</text>
<text transform="translate(1618,93.3) scale(0.95,1)" fill="#fff" text-anchor="start">78.274</text>
<text transform="translate(1618,107.3) scale(0.95,1)" fill="#fff" text-anchor="start">78.068</text>
<text transform="translate(1618,134.3) scale(0.95,1)" fill="#fff" text-anchor="start">77.692</text>
<text transform="translate(1618,163.3) scale(0.95,1)" fill="#fff" text-anchor="start">77.289</text>
<text transform="translate(9,621) scale(0.95,1)" fill="#000" text-anchor="start">MACD(12,26,9) 0.6560 0.4848</text>
<text transform="translate(1616,619.3) scale(0.95,1)" fill="#000" text-anchor="start">0.7227</text>
<text transform="translate(1616,663.3) scale(0.95,1)" fill="#000" text-anchor="start">0.00</text>
<text transform="translate(1616,707.3) scale(0.95,1)" fill="#000" text-anchor="start">-0.7447</text>
<text transform="translate(9,725) scale(0.95,1)" fill="#000" text-anchor="start">RSI(14) 70.2023</text>
<text transform="translate(1616,723.3) scale(0.95,1)" fill="#000" text-anchor="start">100</text>
<text transform="translate(1616,736.3) scale(0.95,1)" fill="#000" text-anchor="start">80</text>
<text transform="translate(1616,764.3) scale(0.95,1)" fill="#000" text-anchor="start">50</text>
<text transform="translate(1616,797.3) scale(0.95,1)" fill="#000" text-anchor="start">15</text>
<text transform="translate(1616,805) scale(0.95,1)" fill="#000" text-anchor="start">0</text>
<text transform="translate(4,820.3) scale(0.925,1)" fill="#000" text-anchor="start">19 Jun 2023</text>
<text transform="translate(68,820.3) scale(0.925,1)" fill="#000" text-anchor="start">20 Jun 04:00</text>
<text transform="translate(132,820.3) scale(0.925,1)" fill="#000" text-anchor="start">20 Jun 20:00</text>
<text transform="translate(196,820.3) scale(0.925,1)" fill="#000" text-anchor="start">21 Jun 12:00</text>
<text transform="translate(260,820.3) scale(0.925,1)" fill="#000" text-anchor="start">22 Jun 04:00</text>
<text transform="translate(324,820.3) scale(0.925,1)" fill="#000" text-anchor="start">22 Jun 20:00</text>
<text transform="translate(388,820.3) scale(0.925,1)" fill="#000" text-anchor="start">23 Jun 12:00</text>
<text transform="translate(452,820.3) scale(0.925,1)" fill="#000" text-anchor="start">26 Jun 04:00</text>
<text transform="translate(516,820.3) scale(0.925,1)" fill="#000" text-anchor="start">26 Jun 20:00</text>
<text transform="translate(580,820.3) scale(0.925,1)" fill="#000" text-anchor="start">27 Jun 12:00</text>
<text transform="translate(644,820.3) scale(0.925,1)" fill="#000" text-anchor="start">28 Jun 04:00</text>
<text transform="translate(708,820.3) scale(0.925,1)" fill="#000" text-anchor="start">29 Jun 00:00</text>
<text transform="translate(772,820.3) scale(0.925,1)" fill="#000" text-anchor="start">29 Jun 16:00</text>
<text transform="translate(836,820.3) scale(0.925,1)" fill="#000" text-anchor="start">30 Jun 08:00</text>
<text transform="translate(900,820.3) scale(0.925,1)" fill="#000" text-anchor="start">3 Jul 00:00</text>
<text transform="translate(964,820.3) scale(0.925,1)" fill="#000" text-anchor="start">3 Jul 16:00</text>
<text transform="translate(1028,820.3) scale(0.925,1)" fill="#000" text-anchor="start">4 Jul 08:00</text>
<text transform="translate(1092,820.3) scale(0.925,1)" fill="#000" text-anchor="start">5 Jul 04:00</text>
<text transform="translate(1156,820.3) scale(0.925,1)" fill="#000" text-anchor="start">5 Jul 20:00</text>
<text transform="translate(1220,820.3) scale(0.925,1)" fill="#000" text-anchor="start">6 Jul 12:00</text>
<text transform="translate(1284,820.3) scale(0.925,1)" fill="#000" text-anchor="start">7 Jul 04:00</text>
<text transform="translate(1348,820.3) scale(0.925,1)" fill="#000" text-anchor="start">7 Jul 20:00</text></g></svg>
</body></html>
